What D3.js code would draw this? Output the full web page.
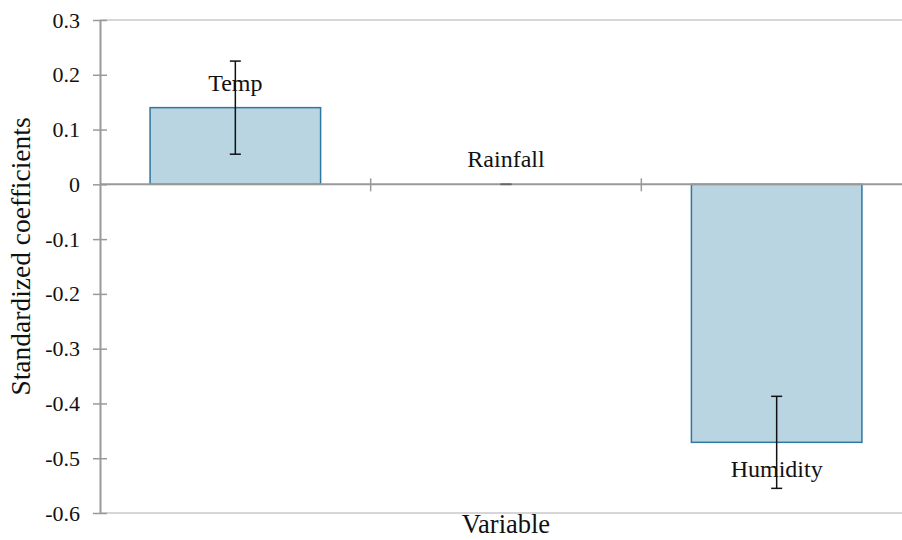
<!DOCTYPE html>
<html>
<head>
<meta charset="utf-8">
<script src="https://cdn.jsdelivr.net/npm/d3@7"></script>
<style>
  html, body { margin: 0; padding: 0; background: #fff; }
  svg { display: block; }
  svg text { font-family: "Liberation Serif", "Times New Roman", Times, serif; }
</style>
</head>
<body>
<svg id="chart" width="902" height="540"></svg>
<script>
// Standardized regression coefficients with their error margins
const categories = ["Temp", "Rainfall", "Humidity"];
const coefficients = [0.14, 0.0, -0.471];
const errors = [0.085, 0.0, 0.084];
const yTicks = [0.3, 0.2, 0.1, 0, -0.1, -0.2, -0.3, -0.4, -0.5, -0.6];

const FONT = "'Liberation Serif', 'Times New Roman', Times, serif";
const svg = d3.select("#chart");
const margin = { left: 100, top: 20, right: -10, bottom: 27 };
const W = 902, H = 540;
const x0 = margin.left, x1 = W - margin.right;
const y0 = margin.top, y1 = H - margin.bottom;

const x = d3.scaleBand().domain(categories).range([x0, x1]).paddingInner(0.37).paddingOuter(0.185);
const xSlots = d3.scaleBand().domain(categories).range([x0, x1]);
const y = d3.scaleLinear().domain([-0.6, 0.3]).range([y1, y0]);

// frame lines at top and bottom of plot area
[0.3, -0.6].forEach(v => {
  svg.append("line")
    .attr("x1", x0).attr("x2", W)
    .attr("y1", y(v)).attr("y2", y(v))
    .attr("stroke", "#c8c8c8").attr("stroke-width", 1.5);
});

// bars
const rows = categories.map((c, i) => ({ c, v: coefficients[i], e: errors[i] }));
svg.append("g").selectAll("rect").data(rows.filter(d => d.v !== 0)).join("rect")
  .attr("x", d => x(d.c))
  .attr("width", x.bandwidth())
  .attr("y", d => y(Math.max(0, d.v)))
  .attr("height", d => Math.abs(y(d.v) - y(0)))
  .attr("fill", "#b9d5e1")
  .attr("stroke", "#2f76a0")
  .attr("stroke-width", 1.5);

// y axis
const yAxis = d3.axisLeft(y).tickValues(yTicks).tickSizeInner(7).tickSizeOuter(0).tickPadding(13)
  .tickFormat(d => d === 0 ? "0" : d.toFixed(1));
const gy = svg.append("g").attr("transform", `translate(${x0},0)`).call(yAxis)
  .attr("font-family", FONT).attr("font-size", 22);
gy.select(".domain").attr("stroke", "#999").attr("stroke-width", 2);
gy.selectAll(".tick line").attr("stroke", "#999").attr("stroke-width", 1.5).attr("x2", 7).attr("x1", -7);
gy.selectAll(".tick text").attr("fill", "#111").attr("font-family", FONT).attr("font-size", 22);

// x axis along zero with category separators
svg.append("line").attr("x1", x0).attr("x2", W).attr("y1", y(0)).attr("y2", y(0))
  .attr("stroke", "#999").attr("stroke-width", 2);
svg.append("g").selectAll("line").data(categories.slice(1)).join("line")
  .attr("x1", d => xSlots(d)).attr("x2", d => xSlots(d))
  .attr("y1", y(0) - 6).attr("y2", y(0) + 7)
  .attr("stroke", "#999").attr("stroke-width", 1.5);

// error bars
const cap = 5.5;
const eb = svg.append("g").attr("stroke-width", 1.5);
rows.forEach(d => {
  const cx = x(d.c) + x.bandwidth() / 2;
  const color = d.e === 0 ? "#666" : "#111";
  eb.append("line").attr("x1", cx).attr("x2", cx).attr("y1", y(d.v + d.e)).attr("y2", y(d.v - d.e)).attr("stroke", color);
  eb.append("line").attr("x1", cx - cap).attr("x2", cx + cap).attr("y1", y(d.v + d.e)).attr("y2", y(d.v + d.e)).attr("stroke", color);
  eb.append("line").attr("x1", cx - cap).attr("x2", cx + cap).attr("y1", y(d.v - d.e)).attr("y2", y(d.v - d.e)).attr("stroke", color);
});

// category labels at bar ends
svg.append("g").selectAll("text").data(rows).join("text")
  .attr("x", d => x(d.c) + x.bandwidth() / 2)
  .attr("y", d => d.v >= 0 ? y(d.v) - 17 : y(d.v) + 35)
  .attr("text-anchor", "middle")
  .attr("font-family", FONT)
  .attr("font-size", 24)
  .attr("fill", "#111")
  .text(d => d.c);

// axis titles
svg.append("text").attr("x", (x0 + x1) / 2).attr("y", 533).attr("text-anchor", "middle")
  .attr("font-family", FONT).attr("font-size", 26.5).attr("fill", "#111").text("Variable");
svg.append("text").attr("transform", `translate(30,${(y0 + y1) / 2 - 10}) rotate(-90)`)
  .attr("text-anchor", "middle").attr("font-family", FONT).attr("font-size", 27.5).attr("fill", "#111")
  .text("Standardized coefficients");
</script>
</body>
</html>
